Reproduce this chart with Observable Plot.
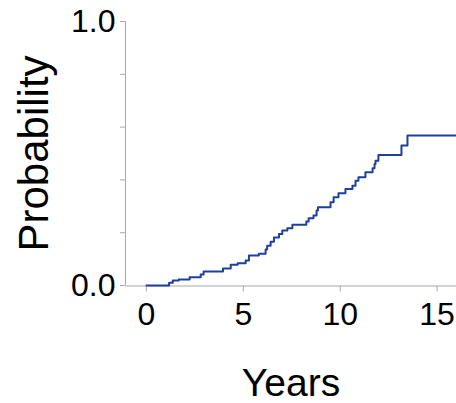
<!DOCTYPE html>
<html>
<head>
<meta charset="utf-8">
<script src="https://cdn.jsdelivr.net/npm/d3@7"></script>
<script src="https://cdn.jsdelivr.net/npm/@observablehq/plot@0.6"></script>
<style>
  html, body { margin: 0; padding: 0; background: #fff; }
  svg [aria-label="y-axis tick"], svg [aria-label="x-axis tick"] { stroke: #aaa; }
  svg [aria-label="y-axis tick label"], svg [aria-label="x-axis tick label"] { fill: #000; }
</style>
</head>
<body>
<div id="chart"></div>
<script>
// Event times (years) and cumulative probability after each step
const times = [0, 1.17, 1.36, 1.67, 2.23, 2.80, 2.95, 3.95, 4.35, 4.71, 5.12, 5.29, 5.80, 6.15, 6.23, 6.41, 6.58, 6.84, 7.01, 7.27, 7.53, 8.25, 8.37, 8.62, 8.78, 8.85, 9.50, 9.66, 9.91, 10.27, 10.63, 10.79, 10.94, 11.30, 11.67, 11.77, 11.82, 11.97, 13.16, 13.47, 16.0];
const probs = [0, 0.010, 0.019, 0.023, 0.031, 0.042, 0.053, 0.064, 0.079, 0.084, 0.095, 0.114, 0.120, 0.136, 0.151, 0.166, 0.182, 0.195, 0.208, 0.217, 0.230, 0.242, 0.255, 0.265, 0.284, 0.296, 0.315, 0.334, 0.349, 0.366, 0.378, 0.397, 0.410, 0.429, 0.444, 0.460, 0.473, 0.494, 0.530, 0.568, 0.568];
const xTicks = [0, 5, 10, 15];
const yTicks = [0, 0.2, 0.4, 0.6, 0.8, 1.0];
const yTickLabels = {0: "0.0", 1: "1.0"};
const xLabel = "Years";
const yLabel = "Probability";

const data = times.map((t, i) => ({t, p: probs[i]}));

const chart = Plot.plot({
  width: 456,
  height: 403,
  marginLeft: 125,
  marginRight: 0,
  marginTop: 21,
  marginBottom: 118,
  style: {fontFamily: "'Liberation Sans', Arial, sans-serif", background: "#fff"},
  x: {domain: [-1.08, 16]},
  y: {domain: [0, 1]},
  marks: [
    Plot.ruleX([-1.08], {stroke: "#aaa", y1: 0, y2: 1}),
    Plot.ruleY([0], {stroke: "#aaa", dy: 0.5}),
    Plot.axisX(xTicks, {tickSize: 6, tickPadding: 10, fontSize: 32, label: null, dy: 0.5}),
    Plot.axisY(yTicks, {tickSize: 5, tickPadding: 5, fontSize: 32, label: null,
      tickFormat: d => yTickLabels[d] ?? ""}),
    Plot.line(data, {x: "t", y: "p", curve: "step-after", stroke: "#1f3f9e", strokeWidth: 2}),
    Plot.text([xLabel], {frameAnchor: "bottom", lineAnchor: "bottom", dy: 110, fontSize: 39, fill: "#000"}),
    Plot.text([yLabel], {frameAnchor: "left", textAnchor: "middle", rotate: -90, dx: -90.5, fontSize: 42, fill: "#000"})
  ]
});
document.getElementById("chart").appendChild(chart);
</script>
</body>
</html>
